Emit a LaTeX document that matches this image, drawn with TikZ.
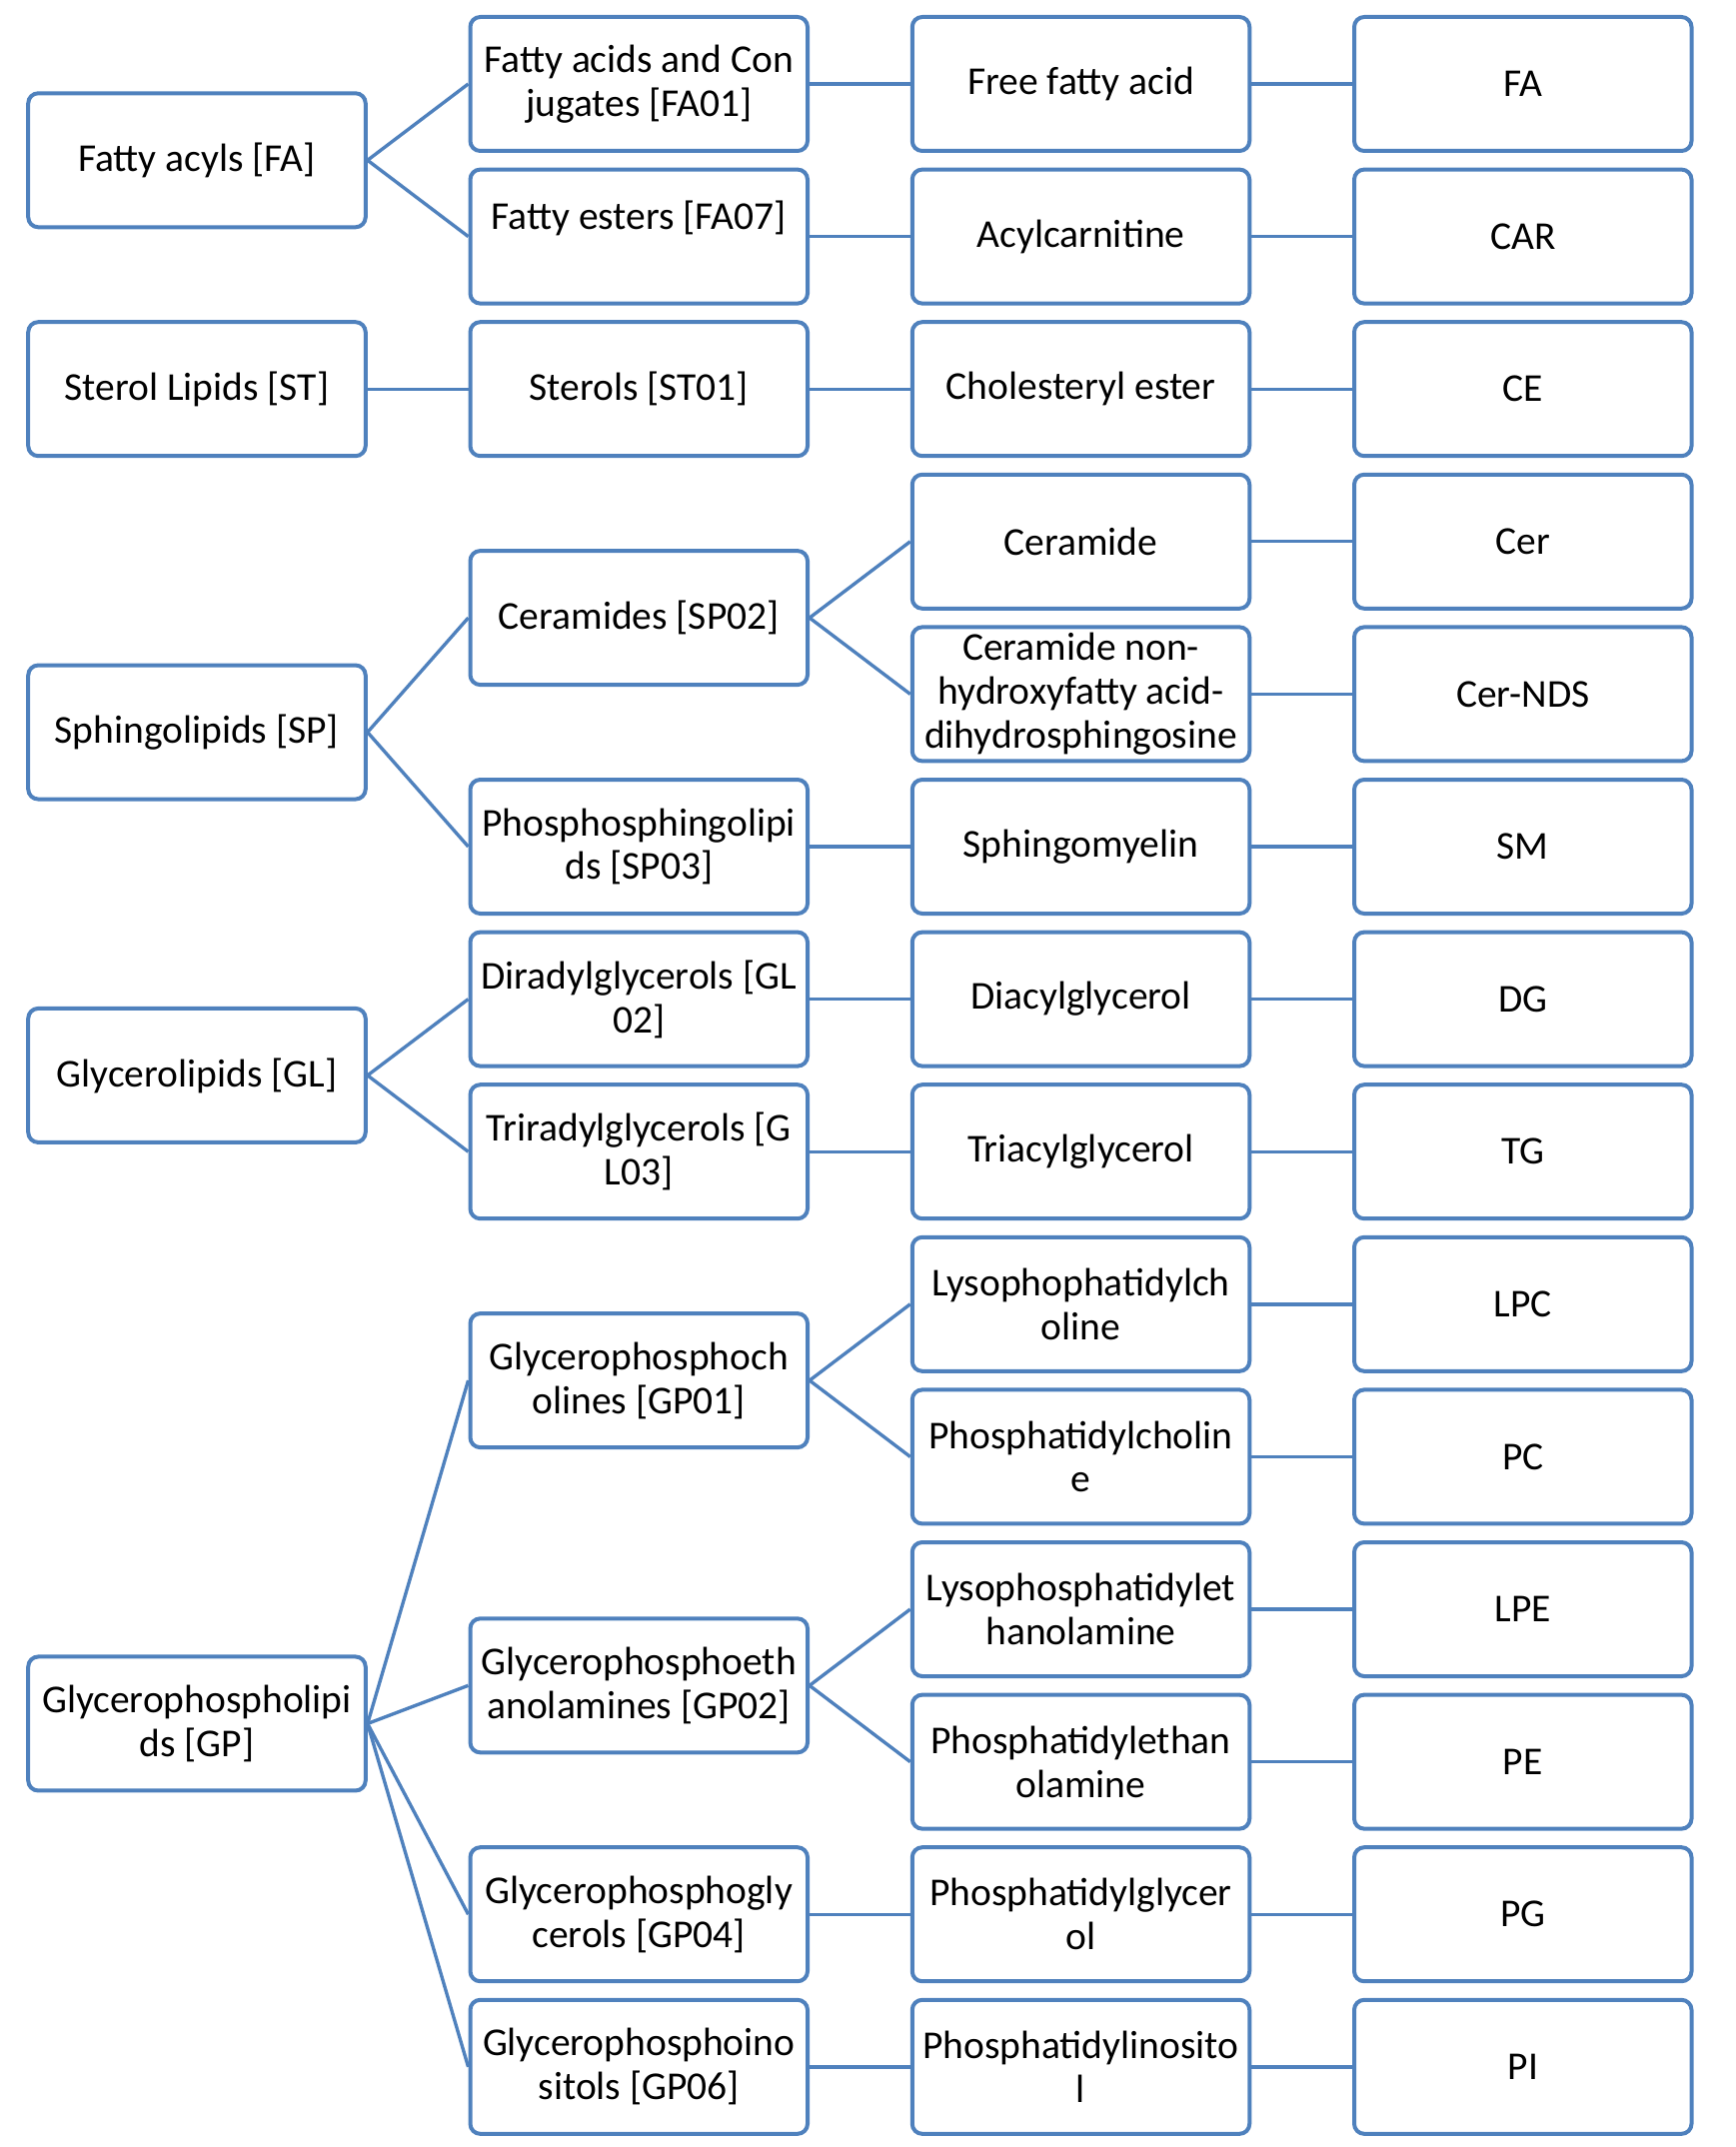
\documentclass[tikz,border=0pt]{standalone}
\usepackage{fontspec}
\setmainfont{Carlito}
\definecolor{boxblue}{RGB}{79,129,189}
\tikzset{
  lipid/.style={draw=boxblue, line width=1.6pt, rounded corners=4pt,
    minimum width=135pt, minimum height=53.6pt, inner sep=1pt, align=center,
    font=\fontsize{15.8pt}{17.5pt}\selectfont, yshift=-0.8pt},
  link/.style={draw=boxblue, line width=1.35pt}
}
\begin{document}
\begin{tikzpicture}[x=176.9pt, y=-61.04pt]
\useasboundingbox (-78.8pt,32.8pt) rectangle (615.6pt,-826.4pt);
% categories
\node[lipid] (FA) at (0,0.5) {Fatty acyls [FA]};
\node[lipid] (ST) at (0,2) {Sterol Lipids [ST]};
\node[lipid] (SP) at (0,4.25) {Sphingolipids [SP]};
\node[lipid] (GL) at (0,6.5) {Glycerolipids [GL]};
\node[lipid] (GP) at (0,10.75) {Glycerophospholipi\\ds [GP]};
% main classes
\node[lipid] (FA01) at (1,0) {Fatty acids and Con\\jugates [FA01]};
\node[lipid] (FA07) at (1,1) {Fatty esters [FA07]\\\mbox{}};
\node[lipid] (ST01) at (1,2) {Sterols [ST01]};
\node[lipid] (SP02) at (1,3.5) {Ceramides [SP02]};
\node[lipid] (SP03) at (1,5) {Phosphosphingolipi\\ds [SP03]};
\node[lipid] (GL02) at (1,6) {Diradylglycerols [GL\\02]};
\node[lipid] (GL03) at (1,7) {Triradylglycerols [G\\L03]};
\node[lipid] (GP01) at (1,8.5) {Glycerophosphoch\\olines [GP01]};
\node[lipid] (GP02) at (1,10.5) {Glycerophosphoeth\\anolamines [GP02]};
\node[lipid] (GP04) at (1,12) {Glycerophosphogly\\cerols [GP04]};
\node[lipid] (GP06) at (1,13) {Glycerophosphoino\\sitols [GP06]};
% lipid species
\node[lipid] (ffa) at (2,0) {Free fatty acid};
\node[lipid] (car) at (2,1) {Acylcarnitine};
\node[lipid] (ce) at (2,2) {Cholesteryl ester};
\node[lipid] (cer) at (2,3) {Ceramide};
\node[lipid] (cernds) at (2,4) {Ceramide non-\\hydroxyfatty acid-\\dihydrosphingosine};
\node[lipid] (sm) at (2,5) {Sphingomyelin};
\node[lipid] (dg) at (2,6) {Diacylglycerol};
\node[lipid] (tg) at (2,7) {Triacylglycerol};
\node[lipid] (lpc) at (2,8) {Lysophophatidylch\\oline};
\node[lipid] (pc) at (2,9) {Phosphatidylcholin\\e};
\node[lipid] (lpe) at (2,10) {Lysophosphatidylet\\hanolamine};
\node[lipid] (pe) at (2,11) {Phosphatidylethan\\olamine};
\node[lipid] (pg) at (2,12) {Phosphatidylglycer\\ol};
\node[lipid] (pi) at (2,13) {Phosphatidylinosito\\l};
% abbreviations
\node[lipid] (aFA) at (3,0) {FA};
\node[lipid] (aCAR) at (3,1) {CAR};
\node[lipid] (aCE) at (3,2) {CE};
\node[lipid] (aCer) at (3,3) {Cer};
\node[lipid] (aNDS) at (3,4) {Cer-NDS};
\node[lipid] (aSM) at (3,5) {SM};
\node[lipid] (aDG) at (3,6) {DG};
\node[lipid] (aTG) at (3,7) {TG};
\node[lipid] (aLPC) at (3,8) {LPC};
\node[lipid] (aPC) at (3,9) {PC};
\node[lipid] (aLPE) at (3,10) {LPE};
\node[lipid] (aPE) at (3,11) {PE};
\node[lipid] (aPG) at (3,12) {PG};
\node[lipid] (aPI) at (3,13) {PI};
% links
\draw[link] (FA.east) -- (FA01.west);
\draw[link] (FA.east) -- (FA07.west);
\draw[link] (ST.east) -- (ST01.west);
\draw[link] (SP.east) -- (SP02.west);
\draw[link] (SP.east) -- (SP03.west);
\draw[link] (GL.east) -- (GL02.west);
\draw[link] (GL.east) -- (GL03.west);
\draw[link] (GP.east) -- (GP01.west);
\draw[link] (GP.east) -- (GP02.west);
\draw[link] (GP.east) -- (GP04.west);
\draw[link] (GP.east) -- (GP06.west);
\draw[link] (FA01.east) -- (ffa.west);
\draw[link] (FA07.east) -- (car.west);
\draw[link] (ST01.east) -- (ce.west);
\draw[link] (SP02.east) -- (cer.west);
\draw[link] (SP02.east) -- (cernds.west);
\draw[link] (SP03.east) -- (sm.west);
\draw[link] (GL02.east) -- (dg.west);
\draw[link] (GL03.east) -- (tg.west);
\draw[link] (GP01.east) -- (lpc.west);
\draw[link] (GP01.east) -- (pc.west);
\draw[link] (GP02.east) -- (lpe.west);
\draw[link] (GP02.east) -- (pe.west);
\draw[link] (GP04.east) -- (pg.west);
\draw[link] (GP06.east) -- (pi.west);
\draw[link] (ffa) -- (aFA);
\draw[link] (car) -- (aCAR);
\draw[link] (ce) -- (aCE);
\draw[link] (cer) -- (aCer);
\draw[link] (cernds) -- (aNDS);
\draw[link] (sm) -- (aSM);
\draw[link] (dg) -- (aDG);
\draw[link] (tg) -- (aTG);
\draw[link] (lpc) -- (aLPC);
\draw[link] (pc) -- (aPC);
\draw[link] (lpe) -- (aLPE);
\draw[link] (pe) -- (aPE);
\draw[link] (pg) -- (aPG);
\draw[link] (pi) -- (aPI);
\end{tikzpicture}
\end{document}
